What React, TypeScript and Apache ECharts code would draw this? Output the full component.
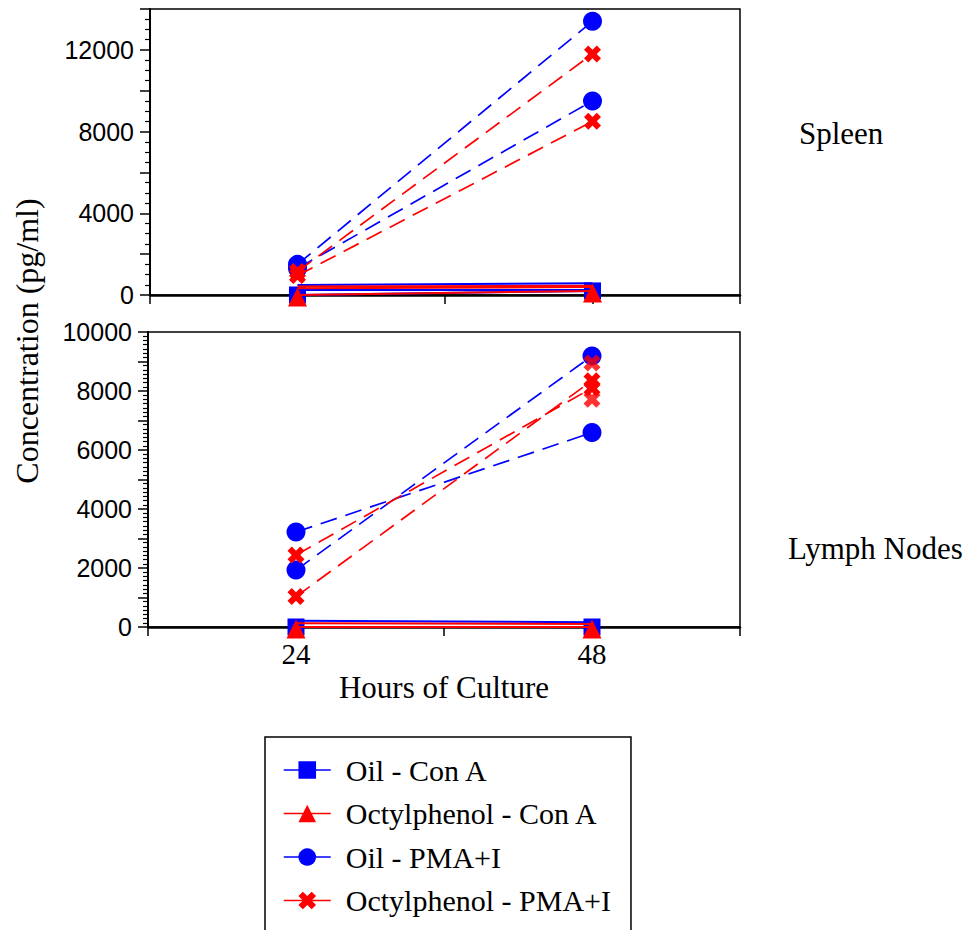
import React, { useEffect, useRef } from 'react';
import * as echarts from 'echarts';

// ---------- data ----------
const hours = [24, 48];
const xTickLabels = [24, 48];
const spleenTickLabels = [0, 4000, 8000, 12000];
const lymphTickLabels = [0, 2000, 4000, 6000, 8000, 10000];
const legendNames = ['Oil - Con A', 'Octylphenol - Con A', 'Oil - PMA+I', 'Octylphenol - PMA+I'];

// Spleen (pg/ml)
const spleenOilConAMarks = [0, 200];
const spleenOctConAMarks = [0, 200];
const spleenOilConALines = [[490, 570], [250, 250]];
const spleenOctConALines = [[410, 450], [330, 390]];
const spleenOilPma = [[1500, 13400], [1300, 9500]];
const spleenOctPma = [[1150, 11800], [950, 8500]];

// Lymph nodes (pg/ml)
const lymphOilConAMarks = [0, 0];
const lymphOctConAMarks = [0, 0];
const lymphOilConALines = [[210, 160]];
const lymphOctConALines = [[130, 100]];
const lymphOilPma = [[3220, 6590], [1930, 9190]];
const lymphOctPma = [[2440, 8100], [1030, 8350]];
const lymphOctPmaExtra48 = [8950, 7720];

// ---------- styling ----------
const BLUE = '#0000ff';
const RED = '#ff0000';
const SERIF = 'Liberation Serif';
const SANS = 'Liberation Sans';
const X_PATH = 'path://M4,0 L8,4 L12,0 L16,4 L12,8 L16,12 L12,16 L8,12 L4,16 L0,12 L4,8 L0,4 Z';

const pts = (vals: number[]) => hours.map((h, i) => [h, vals[i]]);

function lineSeries(
  name: string,
  vals: number[],
  panel: number,
  color: string,
  dashed: boolean,
  symbol: string,
  symbolSize: number,
  z: number,
  symbolOffset: number[] = [0, 0]
) {
  return {
    type: 'line',
    name,
    xAxisIndex: panel,
    yAxisIndex: panel,
    data: pts(vals),
    symbol,
    symbolSize,
    symbolOffset,
    showSymbol: symbol !== 'none',
    clip: false,
    lineStyle: { color, width: dashed ? 1.7 : 2, type: dashed ? [17, 9] : 'solid' },
    itemStyle: { color },
    emphasis: { disabled: true },
    z,
  };
}

function buildSeries() {
  const s: any[] = [];
  const panels = [
    {
      oilMarks: spleenOilConAMarks, octMarks: spleenOctConAMarks,
      oilLines: spleenOilConALines, octLines: spleenOctConALines,
      oilPma: spleenOilPma, octPma: spleenOctPma,
    },
    {
      oilMarks: lymphOilConAMarks, octMarks: lymphOctConAMarks,
      oilLines: lymphOilConALines, octLines: lymphOctConALines,
      oilPma: lymphOilPma, octPma: lymphOctPma,
    },
  ];
  panels.forEach((p, k) => {
    s.push(lineSeries(legendNames[0], p.oilMarks, k, BLUE, false, 'rect', 17, 3));
    p.oilLines.forEach((v) => s.push(lineSeries(legendNames[0], v, k, BLUE, false, 'none', 0, 3)));
    s.push(lineSeries(legendNames[1], p.octMarks, k, RED, false, 'triangle', 19, 4, [0, 2]));
    p.octLines.forEach((v) => s.push(lineSeries(legendNames[1], v, k, RED, false, 'none', 0, 4)));
    p.oilPma.forEach((v) => s.push(lineSeries(legendNames[2], v, k, BLUE, true, 'circle', 19, 5)));
    p.octPma.forEach((v) => s.push(lineSeries(legendNames[3], v, k, RED, true, X_PATH, 17, 6)));
  });
  s.push({
    type: 'scatter',
    name: legendNames[3],
    xAxisIndex: 1,
    yAxisIndex: 1,
    data: lymphOctPmaExtra48.map((v) => [hours[1], v]),
    symbol: X_PATH,
    symbolSize: 17,
    itemStyle: { color: RED },
    emphasis: { disabled: true },
    z: 6,
  });
  return s;
}

function xAxis(grid: number, showLabels: boolean, name?: string) {
  return {
    type: 'value',
    gridIndex: grid,
    min: 12,
    max: 60,
    interval: 12,
    name: name || '',
    nameLocation: 'middle',
    nameGap: 45,
    nameTextStyle: { fontFamily: SERIF, fontSize: 31, color: '#000' },
    axisLine: { show: true, onZero: false, lineStyle: { color: '#000', width: 2.5 } },
    axisTick: { show: true, length: 9, lineStyle: { color: '#000', width: 1.5 } },
    splitLine: { show: false },
    axisLabel: {
      show: showLabels,
      formatter: (v: number) => (xTickLabels.includes(v) ? String(v) : ''),
      fontFamily: SERIF,
      fontSize: 29,
      color: '#000',
      margin: 12,
    },
  };
}

function yAxis(grid: number, max: number, interval: number, minorSplit: number, labels: number[]) {
  return {
    type: 'value',
    gridIndex: grid,
    min: 0,
    max,
    interval,
    axisLine: { show: true, onZero: false, lineStyle: { color: '#000', width: 2 } },
    axisTick: { show: true, length: 10, lineStyle: { color: '#000', width: 1.5 } },
    minorTick: { show: true, splitNumber: minorSplit, length: 5, lineStyle: { color: '#000', width: 1.2 } },
    splitLine: { show: false },
    minorSplitLine: { show: false },
    axisLabel: {
      formatter: (v: number) => (labels.includes(v) ? String(v) : ''),
      fontFamily: SANS,
      fontSize: 25,
      color: '#000',
      margin: 16,
    },
  };
}

export default function App() {
  const ref = useRef<HTMLDivElement>(null);
  useEffect(() => {
    document.body.style.margin = '0';
    if (!ref.current) return;
    const chart = echarts.init(ref.current, null, { renderer: 'svg' });
    chart.setOption({
      animation: false,
      backgroundColor: '#fff',
      grid: [
        { left: 150, top: 9, width: 590, height: 286, show: true, borderColor: '#000', borderWidth: 1.5 },
        { left: 148, top: 332, width: 592, height: 295, show: true, borderColor: '#000', borderWidth: 1.5 },
      ],
      xAxis: [xAxis(0, false), xAxis(1, true, 'Hours of Culture')],
      yAxis: [
        yAxis(0, 14000, 2000, 4, spleenTickLabels),
        yAxis(1, 10000, 1000, 7, lymphTickLabels),
      ],
      legend: {
        orient: 'vertical',
        left: 265,
        top: 737,
        height: 240,
        borderColor: '#000',
        borderWidth: 1.5,
        padding: [18, 20, 20, 18],
        itemGap: 13.5,
        itemWidth: 47,
        itemHeight: 22,
        selectedMode: false,
        textStyle: { fontFamily: SERIF, fontSize: 30, color: '#000', lineHeight: 30, padding: [0, 0, 0, 10] },
        data: legendNames.map((n) => ({ name: n, lineStyle: { type: 'solid', width: 1.5 } })),
      },
      graphic: [
        {
          type: 'text',
          x: 27,
          y: 341,
          rotation: Math.PI / 2,
          style: {
            text: 'Concentration (pg/ml)',
            font: `32px "${SERIF}"`,
            fill: '#000',
            align: 'center',
            verticalAlign: 'middle',
          },
        },
        {
          type: 'text',
          x: 799,
          y: 133,
          style: { text: 'Spleen', font: `31px "${SERIF}"`, fill: '#000', align: 'left', verticalAlign: 'middle' },
        },
        {
          type: 'text',
          x: 788,
          y: 548,
          style: { text: 'Lymph Nodes', font: `31px "${SERIF}"`, fill: '#000', align: 'left', verticalAlign: 'middle' },
        },
      ],
      series: buildSeries(),
    });
    return () => chart.dispose();
  }, []);
  return <div ref={ref} style={{ width: 969, height: 930 }} />;
}
